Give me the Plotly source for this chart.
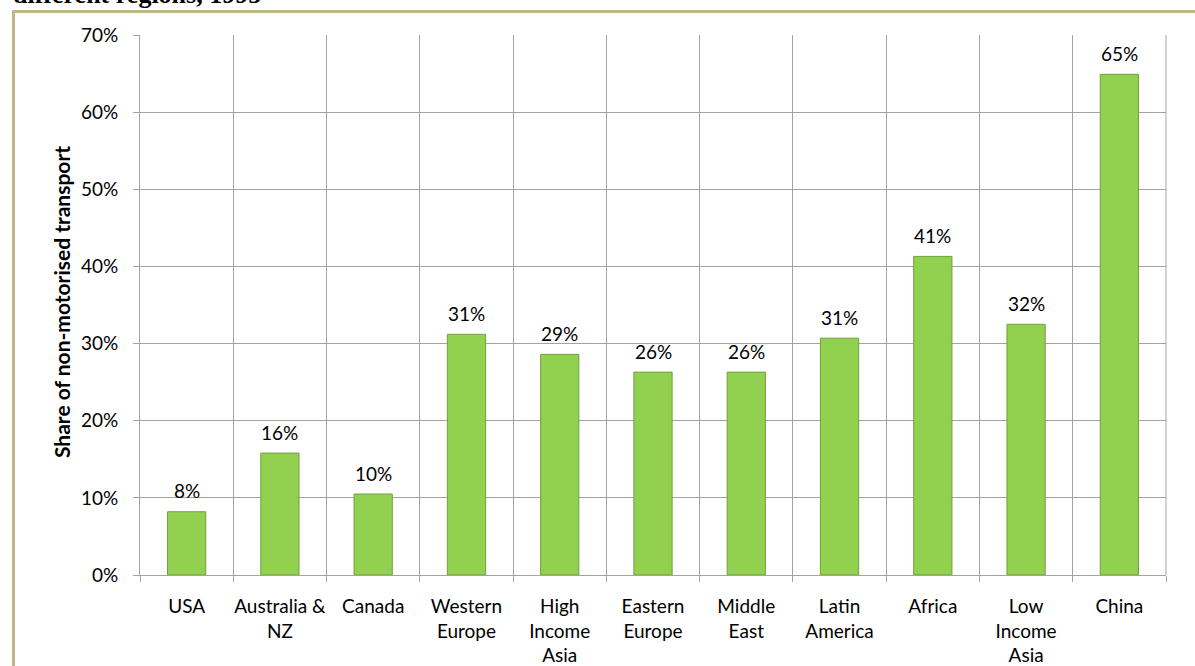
import plotly.graph_objects as go

categories = ["USA", "Australia &<br>NZ", "Canada", "Western<br>Europe", "High<br>Income<br>Asia",
              "Eastern<br>Europe", "Middle<br>East", "Latin<br>America", "Africa", "Low<br>Income<br>Asia", "China"]
values = [0.082, 0.158, 0.105, 0.312, 0.286, 0.263, 0.263, 0.307, 0.413, 0.325, 0.649]
y_ticks = [0, 0.1, 0.2, 0.3, 0.4, 0.5, 0.6, 0.7]
y_tick_labels = ["0%", "10%", "20%", "30%", "40%", "50%", "60%", "70%"]

FONT = "Lato"
GRID = "#a3a3a3"
FS = 19

W, H = 1195, 666
L, R, T, B = 140, 29, 35, 91
pw, ph = W - L - R, H - T - B

def px_x(px):
    return (px - L) / pw

def px_y(py):
    return (H - B - py) / ph

fig = go.Figure()
fig.add_trace(go.Bar(
    x=categories, y=values,
    marker=dict(color="#92d050", line=dict(color="#71a03c", width=1)),
    width=0.41,
    hoverinfo="skip",
))

for c, v in zip(categories, values):
    fig.add_annotation(x=c, y=v, xref="x", yref="y", text=f"{round(v*100):d}%",
                       showarrow=False, yanchor="middle", yshift=21,
                       font=dict(family=FONT, size=FS, color="#000000"))

# border frame (partially visible)
fig.add_shape(type="rect", xref="paper", yref="paper",
              x0=px_x(13.5), x1=px_x(1260), y0=px_y(11.5), y1=px_y(720),
              line=dict(color="#bcb78c", width=3), fillcolor="rgba(0,0,0,0)", layer="below")

# clipped title above the chart
fig.add_annotation(xref="paper", yref="paper", x=px_x(11), y=px_y(11), xanchor="left", yanchor="bottom",
                   text="<b>different regions, 1995</b>", showarrow=False,
                   font=dict(family="Liberation Serif", size=26, color="#000000"))

# y-axis title
fig.add_annotation(xref="paper", yref="paper", x=px_x(61), y=px_y(302), xanchor="center", yanchor="middle",
                   text="<b>Share of non-motorised transport</b>", textangle=-90, showarrow=False,
                   font=dict(family=FONT, size=21, color="#000000"))

fig.update_layout(
    width=W, height=H,
    margin=dict(l=L, r=R, t=T, b=B, pad=0),
    paper_bgcolor="white", plot_bgcolor="white",
    showlegend=False,
    font=dict(family=FONT, size=FS, color="#000000"),
    xaxis=dict(
        type="category", tickson="boundaries",
        showgrid=True, gridcolor=GRID, gridwidth=1,
        showline=True, linecolor=GRID, linewidth=1,
        ticks="outside", ticklen=6, tickcolor=GRID,
        tickfont=dict(family=FONT, size=FS, color="#000000"),
        tickangle=0, automargin=False,
        ticklabelstandoff=14,
        range=[-0.5, len(categories) - 0.5],
    ),
    yaxis=dict(
        range=[0, 0.7], tickvals=y_ticks, ticktext=y_tick_labels,
        showgrid=True, gridcolor=GRID, gridwidth=1,
        showline=True, linecolor=GRID, linewidth=1,
        ticks="outside", ticklen=6, tickcolor=GRID,
        tickfont=dict(family=FONT, size=FS, color="#000000"),
        ticklabelstandoff=11, automargin=False,
        zeroline=False,
    ),
)
# right edge line of the grid
fig.add_shape(type="line", xref="paper", yref="paper", x0=1, x1=1, y0=0, y1=1,
              line=dict(color=GRID, width=1))

fig.write_html("out.html")
